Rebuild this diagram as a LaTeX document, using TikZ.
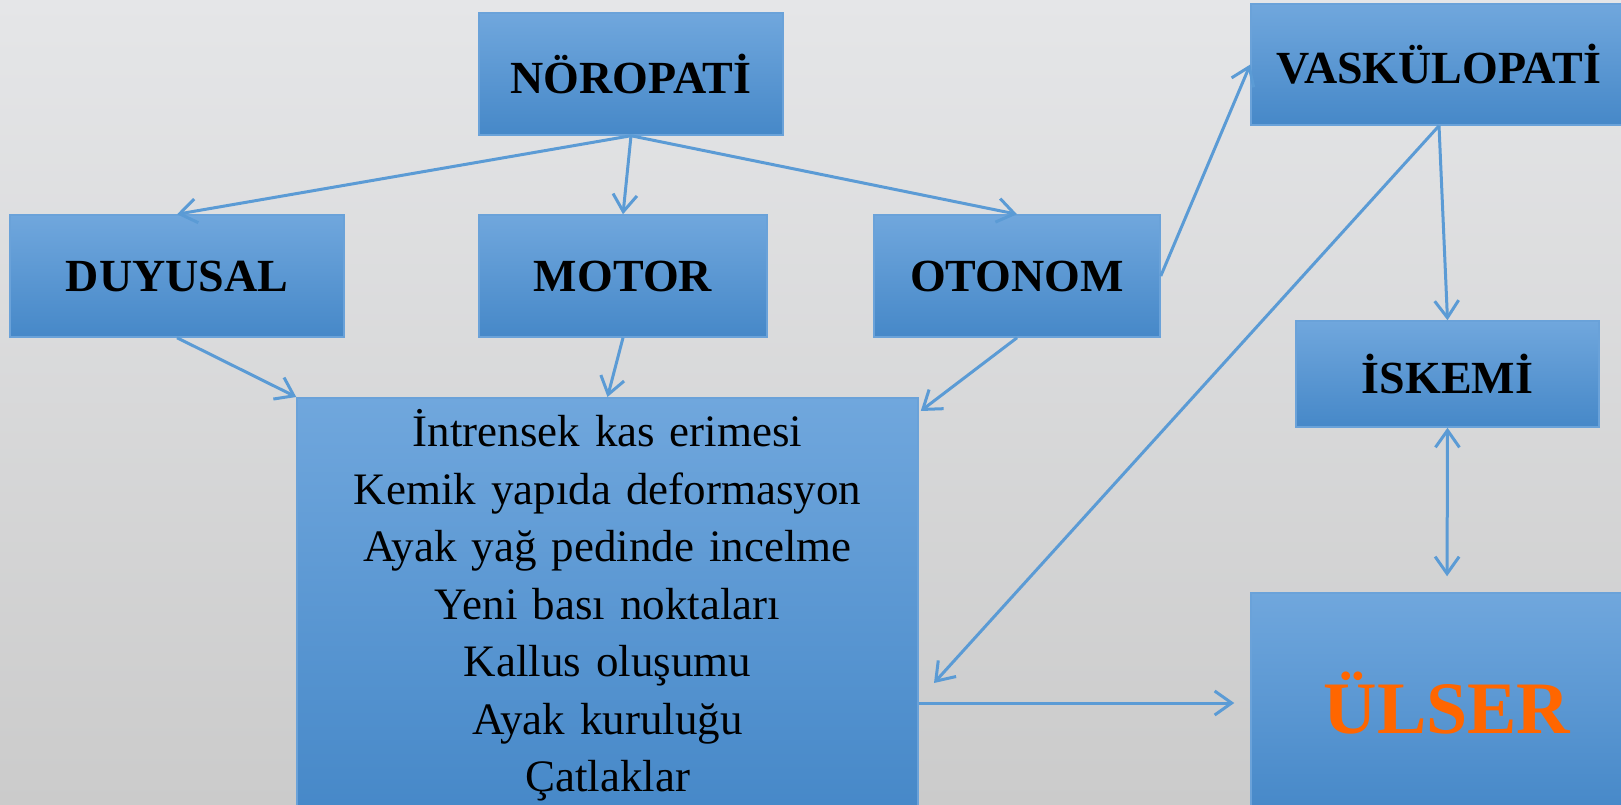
\documentclass[tikz,border=0pt]{standalone}
\usepackage{fontspec}
\setmainfont{Liberation Serif}
\usetikzlibrary{arrows.meta,positioning,calc}
\definecolor{bgtop}{HTML}{E5E6E8}
\definecolor{bgbot}{HTML}{CBCBCB}
\definecolor{boxtop}{HTML}{70A7DD}
\definecolor{boxbot}{HTML}{4688C8}
\definecolor{boxline}{HTML}{6AA2D9}
\definecolor{arrowblue}{HTML}{5B9BD5}
\definecolor{ulserorange}{HTML}{FF6600}
\tikzset{
  barb/.tip={Straight Barb[length=17pt,width=24pt]},
  box/.style={rectangle, draw=boxline, line width=1.5pt, top color=boxtop, bottom color=boxbot,
    inner sep=0pt, font=\fontsize{46}{55}\selectfont\bfseries},
  flow/.style={draw=arrowblue, line width=3pt, -barb},
}
\begin{document}
\begin{tikzpicture}[x=1pt,y=-1pt]
    \useasboundingbox (0,0) rectangle (1621,805);
    \clip (0,0) rectangle (1621,805);
    \fill[top color=bgtop, bottom color=bgbot] (0,0) rectangle (1621,805);

    % top row and branches
    \node[box, minimum width=304pt, minimum height=122pt] (noro) at (631,74) {NÖROPATİ};
    \node[box, minimum width=334pt, minimum height=122pt] (duy) at (177,276) {DUYUSAL};
    \node[box, minimum width=288pt, minimum height=122pt] (mot) at (623,276) {MOTOR};
    \node[box, minimum width=286pt, minimum height=122pt] (oto) at (1017,276) {OTONOM};
    \node[box, minimum width=376pt, minimum height=121pt] (vask) at (1439,64.5) {VASKÜLOPATİ};
    \node[box, minimum width=303pt, minimum height=106pt] (isk) at (1447.5,374) {İSKEMİ};
    \node[box, minimum width=392pt, minimum height=220pt, text=ulserorange,
          font=\fontsize{74}{80}\selectfont\bfseries] (uls) at (1447,703) {ÜLSER};

    % findings
    \node[box, anchor=north, text width=621pt, align=center, inner ysep=12pt,
          font=\fontsize{45}{57.5}\selectfont] (big) at (607.5,397)
          {İntrensek kas erimesi\\ Kemik yapıda deformasyon\\ Ayak yağ pedinde incelme\\
           Yeni bası noktaları\\ Kallus oluşumu\\ Ayak kuruluğu\\ Çatlaklar};

    \coordinate (vtip) at (934,683);

    \draw[flow] (noro.south) -- (duy.north);
    \draw[flow] (noro.south) -- (mot.north);
    \draw[flow] (noro.south) -- (oto.north);
    \draw[flow] (duy.south) -- (big.north west);
    \draw[flow] (mot.south) -- (big.north);
    \draw[flow] (oto.south) -- ($(big.north east)+(2,14)$);
    \draw[flow] (oto.east) -- (vask.west);
    \draw[flow] (vask.south) -- (vtip);
    \draw[flow] (vask.south) -- (isk.north);
    \draw[flow, barb-barb, shorten >=16pt] (isk.south) -- (uls.north);
    \draw[flow, shorten >=16pt] (big.east |- uls.west) -- (uls.west);
\end{tikzpicture}
\end{document}
